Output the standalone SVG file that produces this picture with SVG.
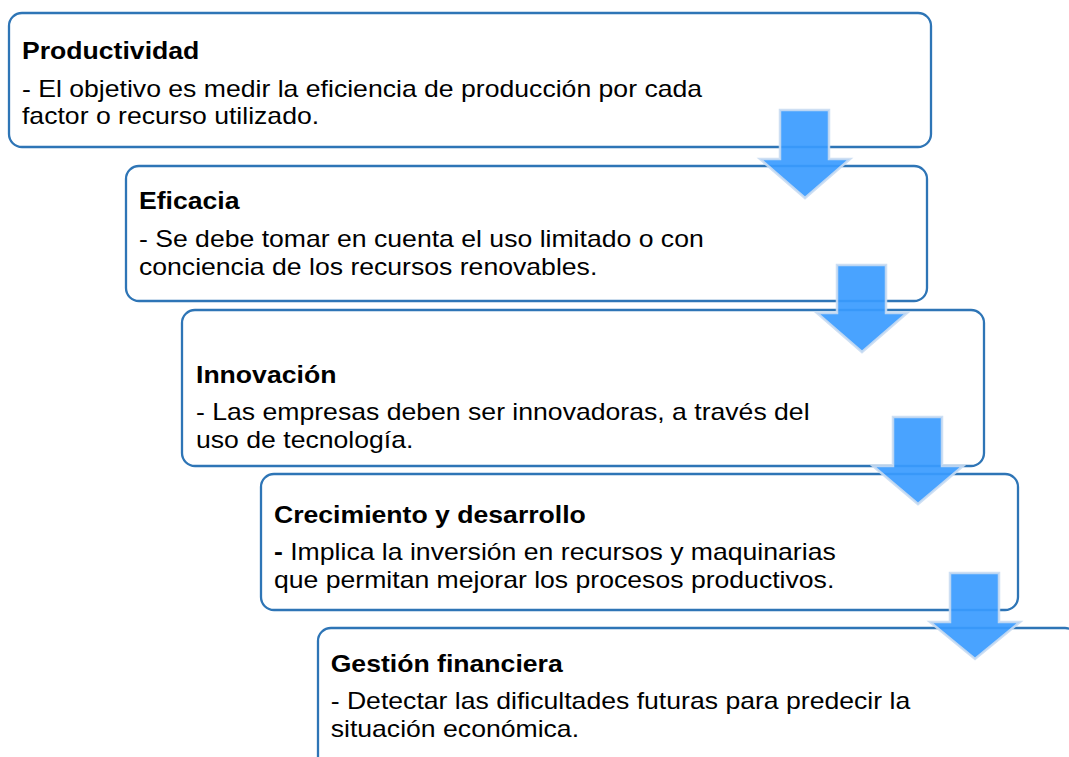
<svg xmlns="http://www.w3.org/2000/svg" width="1069" height="757" viewBox="0 0 1069 757">
<style>
.box{fill:#FFFFFF;stroke:#2E75B6;stroke-width:2.3}
.arrow{fill:#3A9BFF;fill-opacity:0.92;stroke:#C9DBF2;stroke-opacity:0.9;stroke-width:2.5;stroke-linejoin:miter}
.t{font-family:"Liberation Sans",Arial,sans-serif;font-size:23px;fill:#000000}
.h{font-weight:bold}
</style>
<rect width="1069" height="757" fill="#FFFFFF"/>
<g id="node-productividad">
<rect class="box" x="9" y="13" width="922" height="134" rx="13"/>
<g transform="scale(1.157 1)">
<text class="t h" x="19" y="59.5">Productividad</text>
<text class="t" x="19" y="97.5">- El objetivo es medir la eficiencia de producción por cada</text>
<text class="t" x="19" y="124.5">factor o recurso utilizado.</text>
</g>
</g>
<g id="node-eficacia">
<rect class="box" x="126" y="166" width="801" height="135" rx="13"/>
<g transform="scale(1.157 1)">
<text class="t h" x="120.1" y="209">Eficacia</text>
<text class="t" x="120.1" y="246.7">- Se debe tomar en cuenta el uso limitado o con</text>
<text class="t" x="120.1" y="275">conciencia de los recursos renovables.</text>
</g>
</g>
<g id="node-innovacion">
<rect class="box" x="182" y="310" width="802" height="156" rx="13"/>
<g transform="scale(1.157 1)">
<text class="t h" x="169.4" y="383.3">Innovación</text>
<text class="t" x="169.4" y="420">- Las empresas deben ser innovadoras, a través del</text>
<text class="t" x="169.4" y="447.7">uso de tecnología.</text>
</g>
</g>
<g id="node-crecimiento">
<rect class="box" x="261" y="474" width="757" height="136" rx="13"/>
<g transform="scale(1.157 1)">
<text class="t h" x="236.8" y="523.3">Crecimiento y desarrollo</text>
<text class="t" x="236.8" y="560"><tspan class="h">-</tspan> Implica la inversión en recursos y maquinarias</text>
<text class="t" x="236.8" y="588">que permitan mejorar los procesos productivos.</text>
</g>
</g>
<g id="node-gestion">
<rect class="box" x="318" y="628" width="760" height="160" rx="13"/>
<g transform="scale(1.157 1)">
<text class="t h" x="285.8" y="671.7">Gestión financiera</text>
<text class="t" x="285.8" y="709">- Detectar las dificultades futuras para predecir la</text>
<text class="t" x="285.8" y="736.7">situación económica.</text>
</g>
</g>
<g id="connectors">
<polygon class="arrow" points="780,110 829,110 829,159 850,159 805,198 760,159 780,159"/>
<polygon class="arrow" points="837,265 886,265 886,313 907,313 862,352 817,313 837,313"/>
<polygon class="arrow" points="893,417 942,417 942,466 963,466 918,504 873,466 893,466"/>
<polygon class="arrow" points="950,573 999,573 999,622 1020,622 975,659 930,622 950,622"/>
</g>
</svg>
